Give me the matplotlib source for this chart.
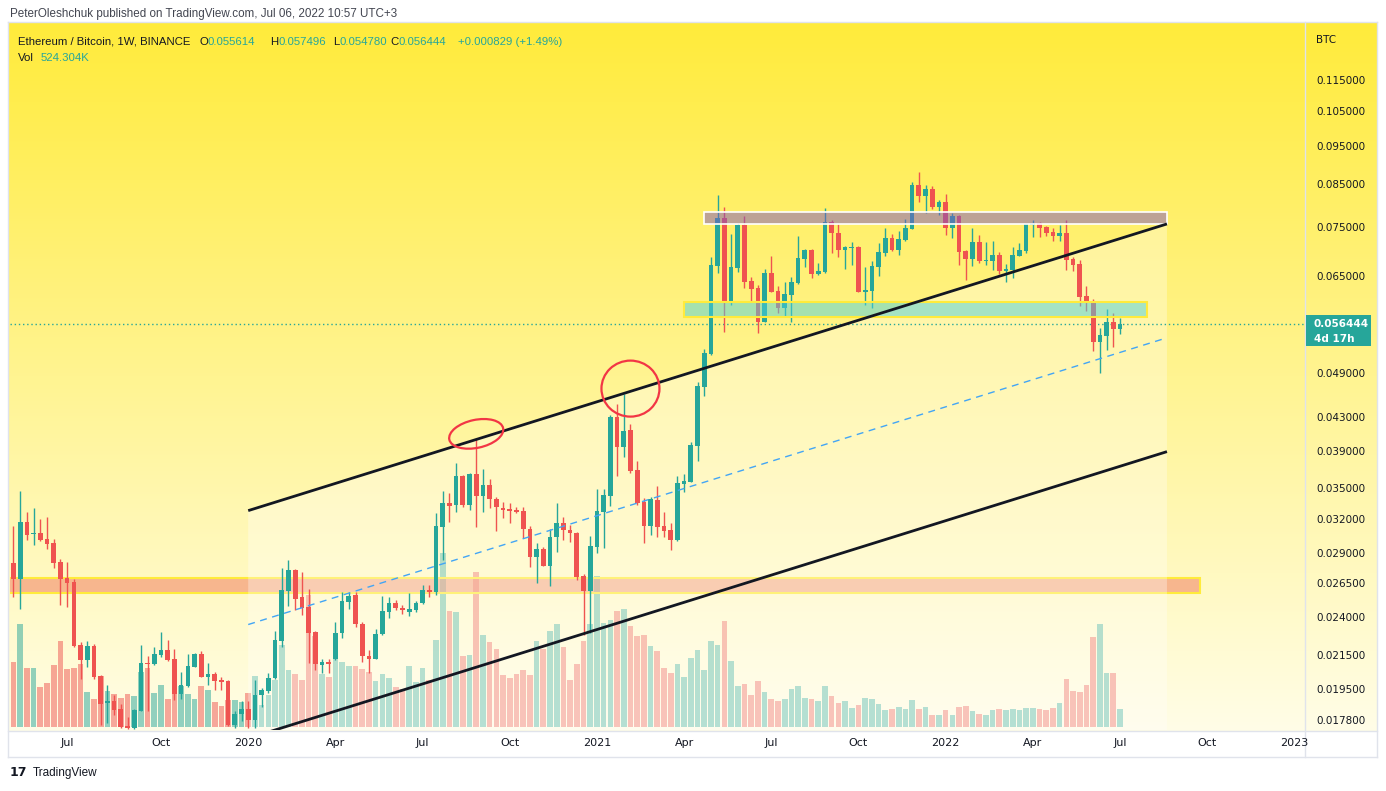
import numpy as np
import pandas as pd
import matplotlib
matplotlib.use('Agg')
import matplotlib.pyplot as plt
import matplotlib.dates as mdates
import matplotlib.transforms as mtransforms
from matplotlib.patches import Rectangle, Ellipse, Polygon
from matplotlib.ticker import NullLocator

W, H, DPI = 1386, 791, 100

# ETH/BTC weekly candles (Binance)
dates = pd.date_range('2019-05-06', periods=166, freq='7D')

opens = [
    0.02813, 0.02686, 0.0317, 0.0306, 0.03071, 0.03018, 0.02983, 0.02822, 0.02693, 0.02662,
    0.02216, 0.02121, 0.02209, 0.02024, 0.01871, 0.01882, 0.01838, 0.01749, 0.01741, 0.01828,
    0.0210, 0.02097, 0.02152, 0.02184, 0.02127, 0.0192, 0.01966, 0.0208, 0.02159, 0.0202,
    0.02034, 0.02001, 0.01995, 0.01754, 0.01812, 0.01838, 0.0178, 0.01912, 0.01939, 0.02009,
    0.02243, 0.02593, 0.02757, 0.02548, 0.02475, 0.02302, 0.02092, 0.02105, 0.02127, 0.02293,
    0.02513, 0.02563, 0.02355, 0.02146, 0.02129, 0.02286, 0.02441, 0.02506, 0.0247, 0.02441,
    0.02453, 0.02502, 0.02601, 0.02588, 0.03126, 0.03349, 0.03332, 0.03626, 0.03332, 0.03647,
    0.03424, 0.03532, 0.03388, 0.03303, 0.0329, 0.03284, 0.03277, 0.03107, 0.02866, 0.0293,
    0.02792, 0.03033, 0.03157, 0.03098, 0.03068, 0.02711, 0.02596, 0.0295, 0.03268, 0.03421,
    0.04307, 0.03949, 0.04146, 0.0369, 0.03361, 0.03131, 0.03381, 0.03131, 0.03098, 0.03009,
    0.03542, 0.03566, 0.03957, 0.04704, 0.05174, 0.06687, 0.077, 0.06022, 0.06648, 0.07537,
    0.06401, 0.06279, 0.05685, 0.06553, 0.06217, 0.05922, 0.06151, 0.0637, 0.06828, 0.07007,
    0.0654, 0.06577, 0.07596, 0.07369, 0.07013, 0.07047, 0.07068, 0.06199, 0.06217, 0.06668,
    0.06946, 0.07256, 0.07007, 0.07214, 0.07449, 0.08468, 0.08202, 0.08371, 0.07942, 0.08059,
    0.0747, 0.07737, 0.06986, 0.06822, 0.07172, 0.06785, 0.06791, 0.06906, 0.06597, 0.0661,
    0.06886, 0.06986, 0.07544, 0.07574, 0.07492, 0.07384, 0.07305, 0.07362, 0.06825, 0.06726,
    0.06128, 0.06004, 0.05359, 0.05453, 0.05681, 0.055614]
highs = [
    0.03136, 0.03471, 0.03265, 0.03303, 0.03199, 0.03218, 0.03018, 0.02846, 0.02822, 0.02686,
    0.02235, 0.02241, 0.02222, 0.0203, 0.01972, 0.01915, 0.01865, 0.01796, 0.01838, 0.02216,
    0.02142, 0.02201, 0.02302, 0.02248, 0.02188, 0.02048, 0.02159, 0.02165, 0.02178, 0.02101,
    0.02048, 0.02015, 0.02001, 0.01828, 0.01882, 0.01882, 0.02001, 0.01955, 0.0204, 0.0231,
    0.02773, 0.02838, 0.02765, 0.02741, 0.02608, 0.0231, 0.02127, 0.02129, 0.02371, 0.02588,
    0.02588, 0.02588, 0.02371, 0.0218, 0.0232, 0.02555, 0.02551, 0.02526, 0.02489, 0.02581,
    0.0252, 0.02639, 0.02639, 0.03253, 0.03474, 0.03447, 0.03766, 0.03637, 0.03654, 0.04035,
    0.03697, 0.03591, 0.03414, 0.03364, 0.03349, 0.03309, 0.03309, 0.03131, 0.02985, 0.0295,
    0.03107, 0.03355, 0.0322, 0.03138, 0.03082, 0.02725, 0.03045, 0.03488, 0.03488, 0.04329,
    0.04478, 0.04598, 0.04221, 0.03788, 0.03398, 0.03414, 0.03522, 0.03268, 0.03157, 0.0362,
    0.03647, 0.04007, 0.04773, 0.05245, 0.06856, 0.08218, 0.0795, 0.07341, 0.07574, 0.07737,
    0.06482, 0.06328, 0.06623, 0.06886, 0.0631, 0.06383, 0.0647, 0.07298, 0.07027, 0.07027,
    0.06746, 0.07919, 0.07647, 0.07552, 0.07095, 0.07172, 0.0709, 0.06661, 0.06791, 0.07157,
    0.0747, 0.07341, 0.07405, 0.07669, 0.0855, 0.088, 0.08468, 0.08443, 0.08106, 0.0825,
    0.07798, 0.07766, 0.07, 0.0747, 0.07319, 0.07172, 0.07193, 0.06966, 0.06726, 0.07075,
    0.07157, 0.07588, 0.07647, 0.07603, 0.07514, 0.0747, 0.07537, 0.07647, 0.06856, 0.06805,
    0.0631, 0.06075, 0.05581, 0.059, 0.05832, 0.057496]
lows = [
    0.02551, 0.02463, 0.03009, 0.02965, 0.0300, 0.02931, 0.02773, 0.02489, 0.02475, 0.02203,
    0.02007, 0.02078, 0.02007, 0.01754, 0.01765, 0.01807, 0.01739, 0.01733, 0.01733, 0.01825,
    0.01829, 0.02092, 0.02136, 0.02115, 0.01887, 0.01894, 0.01959, 0.02078, 0.02018, 0.01972,
    0.01943, 0.01943, 0.0175, 0.01739, 0.01775, 0.01739, 0.01739, 0.0185, 0.01926, 0.02005,
    0.02205, 0.02482, 0.02453, 0.02417, 0.02101, 0.0206, 0.0204, 0.02042, 0.02121, 0.0226,
    0.02458, 0.02337, 0.02105, 0.02044, 0.02125, 0.02282, 0.02395, 0.02453, 0.02423, 0.02411,
    0.0244, 0.02498, 0.02551, 0.02563, 0.02838, 0.03172, 0.03268, 0.03316, 0.03284, 0.03126,
    0.03268, 0.033, 0.03092, 0.0321, 0.03157, 0.03253, 0.03024, 0.02784, 0.02652, 0.02788,
    0.02627, 0.02908, 0.03009, 0.02994, 0.02678, 0.02281, 0.02293, 0.02894, 0.02939, 0.03323,
    0.0362, 0.03836, 0.03655, 0.03332, 0.02985, 0.03053, 0.03038, 0.03038, 0.02922, 0.030,
    0.03464, 0.0356, 0.03791, 0.04578, 0.0516, 0.06558, 0.05522, 0.0597, 0.06577, 0.06268,
    0.06027, 0.05505, 0.0568, 0.062, 0.05826, 0.05768, 0.05685, 0.0634, 0.06673, 0.06464,
    0.06509, 0.06558, 0.0694, 0.06856, 0.06635, 0.06707, 0.0619, 0.0597, 0.05922, 0.06495,
    0.06888, 0.06993, 0.06903, 0.07199, 0.0744, 0.08066, 0.07811, 0.07896, 0.07757, 0.07326,
    0.07256, 0.06707, 0.0642, 0.06687, 0.0674, 0.06707, 0.0661, 0.06528, 0.06388, 0.06464,
    0.0688, 0.06952, 0.07283, 0.07283, 0.07305, 0.07199, 0.07193, 0.0661, 0.06597, 0.05953,
    0.05866, 0.05224, 0.049, 0.05235, 0.05282, 0.05478]
closes = [
    0.02686, 0.0317, 0.03053, 0.03068, 0.03009, 0.02974, 0.02813, 0.02686, 0.02655, 0.02209,
    0.02121, 0.02209, 0.02018, 0.01865, 0.01882, 0.01833, 0.01744, 0.01741, 0.01833, 0.02103,
    0.02093, 0.02159, 0.02184, 0.02121, 0.0192, 0.01972, 0.02084, 0.02159, 0.0202, 0.02034,
    0.01997, 0.01989, 0.01754, 0.01812, 0.01838, 0.0178, 0.01915, 0.01943, 0.02013, 0.02248,
    0.02601, 0.02757, 0.02535, 0.0247, 0.02297, 0.02095, 0.02109, 0.02095, 0.02293, 0.02519,
    0.02555, 0.02355, 0.02142, 0.02129, 0.02288, 0.02446, 0.02506, 0.0247, 0.02453, 0.0246,
    0.02506, 0.02601, 0.02588, 0.03131, 0.03349, 0.03325, 0.03626, 0.03332, 0.03647, 0.03424,
    0.03532, 0.03388, 0.03309, 0.03284, 0.03277, 0.03268, 0.03104, 0.02866, 0.0293, 0.02792,
    0.03033, 0.03157, 0.03098, 0.03068, 0.02703, 0.02596, 0.02956, 0.03277, 0.03431, 0.04307,
    0.03949, 0.04134, 0.03683, 0.03355, 0.03131, 0.03388, 0.03122, 0.03092, 0.03009, 0.03549,
    0.03573, 0.03969, 0.04712, 0.05184, 0.06707, 0.077, 0.06022, 0.06661, 0.07537, 0.06388,
    0.06261, 0.05685, 0.06553, 0.06205, 0.05922, 0.06163, 0.06383, 0.06842, 0.07007, 0.0654,
    0.06591, 0.07596, 0.07356, 0.07007, 0.07068, 0.07068, 0.06199, 0.06236, 0.06687, 0.06966,
    0.07256, 0.07007, 0.07229, 0.0747, 0.08468, 0.08202, 0.08371, 0.07942, 0.08059, 0.0747,
    0.07737, 0.06966, 0.06828, 0.07172, 0.06785, 0.06805, 0.06906, 0.06597, 0.06629, 0.06906,
    0.07007, 0.07559, 0.07574, 0.0747, 0.07369, 0.07305, 0.07362, 0.06805, 0.06707, 0.06115,
    0.06022, 0.05359, 0.05469, 0.05681, 0.05561, 0.056444]
# weekly volume, thousands of ETH
volumes = [
    1871, 2960, 1699, 1699, 1155, 1269, 1785, 2472, 1670, 1699,
    1814, 1011, 811, 1470, 1040, 954, 839, 954, 897, 1584,
    1699, 983, 1212, 811, 1584, 1183, 954, 811, 1183, 1069,
    725, 610, 782, 782, 725, 983, 1470, 639, 925, 1355,
    2358, 1642, 1527, 1355, 3790, 2616, 1527, 1441, 2014, 1871,
    1756, 1756, 1679, 1584, 1335, 1527, 1421, 1163, 1089, 1756,
    1298, 1699, 1355, 2501, 4994, 3332, 3303, 2043, 2071, 4458,
    2644, 2444, 2235, 1498, 1421, 1527, 1642, 1498, 2472, 2235,
    2759, 2960, 2301, 1355, 1814, 2472, 2960, 4335, 2997, 3074,
    3332, 3389, 2902, 2616, 2644, 2329, 2195, 1708, 1564, 1822,
    1441, 1985, 2215, 1642, 2472, 2358, 3045, 1900, 1183, 1241,
    925, 1326, 1011, 811, 753, 811, 1097, 1183, 839, 811,
    753, 1183, 897, 696, 753, 553, 639, 839, 811, 668,
    496, 524, 582, 524, 782, 524, 582, 352, 352, 496,
    352, 582, 610, 467, 381, 352, 496, 524, 496, 524,
    496, 553, 553, 524, 496, 553, 696, 1384, 1040, 1011,
    1212, 2587, 2960, 1556, 1556, 524.304]

price_ticks = [0.115, 0.105, 0.095, 0.085, 0.075, 0.065, 0.049, 0.043, 0.039,
               0.035, 0.032, 0.029, 0.0265, 0.024, 0.0215, 0.0195, 0.0178]
time_ticks = ['2019-07-01', '2019-10-07', '2020-01-06', '2020-04-06', '2020-07-06',
              '2020-10-05', '2021-01-04', '2021-04-05', '2021-07-05', '2021-10-04',
              '2022-01-03', '2022-04-04', '2022-07-04', '2022-10-03', '2023-01-02']
time_labels = ['Jul', 'Oct', '2020', 'Apr', 'Jul', 'Oct', '2021', 'Apr', 'Jul', 'Oct',
               '2022', 'Apr', 'Jul', 'Oct', '2023']

# drawings
channel_dates = ['2020-01-06', '2022-08-22']
channel_upper = [0.03277, 0.07559]
channel_mid = [0.02351, 0.05424]
channel_lower = [0.01687, 0.03892]
zone_top = ['2021-04-26', '2022-08-22', 0.07566, 0.07834]
zone_mid = ['2021-04-05', '2022-08-01', 0.05759, 0.06017]
zone_low = ['2019-03-01', '2022-09-25', 0.02576, 0.02690]
circle_dates = ['2020-08-31', '2021-02-08']
circle_prices = [0.04099, 0.04677]
last_price = 0.056444

UP, DOWN = '#26A69A', '#EF5350'
TXT = '#131722'
UI_FONT = 'Liberation Sans'


def px_box(x0, y0, x1, y1):
    return [x0 / W, 1 - y1 / H, (x1 - x0) / W, (y1 - y0) / H]


def dnum(s):
    return mdates.date2num(pd.Timestamp(s))


fig = plt.figure(figsize=(W / DPI, H / DPI), dpi=DPI, facecolor='white')

# gradient background (chart + price scale)
bg = fig.add_axes(px_box(8, 22, 1377, 731), zorder=0)
g = np.linspace(0, 1, 256)[:, None, None]
c_top = np.array([255, 235, 59]) / 255
c_bot = np.array([255, 253, 231]) / 255
bg.imshow(c_top * (1 - g) + c_bot * g, aspect='auto', extent=[0, 1, 0, 1])
bg.axis('off')

x = mdates.date2num(dates)
o, hi, lo, c = map(np.array, (opens, highs, lows, closes))
up = c >= o
d0 = mdates.date2num(pd.Timestamp('2019-05-06'))
xlim = (d0 - 3.65, d0 + 1348.1)

# volume overlay
axv = fig.add_axes(px_box(10, 22, 1305, 730), zorder=1)
axv.patch.set_alpha(0)
vcol = [(38 / 255, 166 / 255, 154 / 255, 0.5) if u else (239 / 255, 83 / 255, 80 / 255, 0.5) for u in up]
axv.bar(x, volumes, width=5.9, color=vcol, linewidth=0)
axv.set_xlim(xlim)
axv.set_ylim(-77, 20207)
axv.axis('off')

# price pane
ax = fig.add_axes(px_box(10, 22, 1305, 730), zorder=2)
ax.patch.set_alpha(0)
ax.set_yscale('log')
ax.set_xlim(xlim)
ymin, ymax = 0.017287, 0.13619
ax.set_ylim(ymin, ymax)

# support zone (behind candles)
ax.add_patch(Rectangle((dnum(zone_low[0]), zone_low[2]), dnum(zone_low[1]) - dnum(zone_low[0]),
                       zone_low[3] - zone_low[2], facecolor=(0.95, 0.50, 0.39, 0.55),
                       edgecolor='#FFEB3B', lw=1.5, zorder=1))

# channel background
cd = [dnum(s) for s in channel_dates]
ax.add_patch(Polygon([(cd[0], channel_upper[0]), (cd[1], channel_upper[1]),
                      (cd[1], ymin), (cd[0], ymin)], closed=True,
                     facecolor=(1, 1, 1, 0.32), edgecolor='none', zorder=1.5))

# last price line
ax.axhline(last_price, color=UP, lw=1, ls=(0, (1, 2)), zorder=2)

# candles
col = np.where(up, UP, DOWN)
ax.vlines(x, lo, hi, colors=col, lw=1, zorder=3)
body_lo = np.minimum(o, c)
body_h = np.maximum(np.abs(c - o), body_lo * 0.004)
ax.bar(x, body_h, bottom=body_lo, width=4.9, color=col, linewidth=0, zorder=3)

# resistance / mid zones (over candles, translucent)
ax.add_patch(Rectangle((dnum(zone_top[0]), zone_top[2]), dnum(zone_top[1]) - dnum(zone_top[0]),
                       zone_top[3] - zone_top[2], facecolor=(0.49, 0.34, 0.76, 0.5),
                       edgecolor='white', lw=1.2, zorder=4))
ax.add_patch(Rectangle((dnum(zone_mid[0]), zone_mid[2]), dnum(zone_mid[1]) - dnum(zone_mid[0]),
                       zone_mid[3] - zone_mid[2], facecolor=(0.30, 0.82, 0.88, 0.5),
                       edgecolor='#FFEB3B', lw=1.5, zorder=4))

# channel lines
ax.plot(cd, channel_upper, color='#131722', lw=2, zorder=5, solid_capstyle='butt')
ax.plot(cd, channel_lower, color='#131722', lw=2, zorder=5, solid_capstyle='butt')
ax.plot(cd, channel_mid, color='#42A5F5', lw=1, ls=(0, (5, 4)), zorder=5)

# red circles (sizes in pixels)
for dstr, pr, w, h, ang in zip(circle_dates, circle_prices, [55, 58], [28, 56], [12, 0]):
    tr = fig.dpi_scale_trans + mtransforms.ScaledTranslation(dnum(dstr), pr, ax.transData)
    ax.add_patch(Ellipse((0, 0), w / DPI, h / DPI, angle=ang, transform=tr, fill=False,
                         edgecolor='#F23645', lw=1.6, zorder=6))

# axes ticks
for s in ax.spines.values():
    s.set_visible(False)
ax.yaxis.tick_right()
ax.set_yticks(price_ticks)
ax.set_yticklabels([f'{p:.6f}' for p in price_ticks])
ax.yaxis.set_minor_locator(NullLocator())
ax.tick_params(axis='y', length=0, pad=8, labelsize=7.5, colors=TXT)
ax.set_xticks([dnum(s) for s in time_ticks])
ax.set_xticklabels(time_labels)
ax.xaxis.set_minor_locator(NullLocator())
ax.tick_params(axis='x', length=0, pad=6, labelsize=8, colors=TXT)

# last price tag
blend = mtransforms.blended_transform_factory(ax.transAxes, ax.transData)
tag = fig.dpi_scale_trans + mtransforms.ScaledTranslation(1.0, last_price, blend)
ax.add_patch(Rectangle((0.01, -0.22), 0.65, 0.31, transform=tag, facecolor=UP,
                       edgecolor='none', clip_on=False, zorder=7))
ax.text(0.09, 0.0, f'{last_price:.6f}', transform=tag, color='white', fontsize=7.5,
        fontweight='bold', va='center', ha='left', zorder=8, clip_on=False)
ax.text(0.09, -0.145, '4d 17h', transform=tag, color='white', fontsize=7.5,
        fontweight='bold', va='center', ha='left', zorder=8, clip_on=False)

# frame
for (xa, ya, xb, yb) in [(8, 22, 1377, 22), (8, 757, 1377, 757), (8, 22, 8, 757),
                         (1377, 22, 1377, 757), (1305, 22, 1305, 757), (8, 731, 1377, 731)]:
    fig.add_artist(plt.Line2D([xa / W, xb / W], [1 - ya / H, 1 - yb / H],
                              transform=fig.transFigure, color='#E0E3EB', lw=1))

fig.text(1316 / W, 1 - 40 / H, 'BTC', fontsize=7.5, color=TXT, va='center')

# header + legend
fig.text(10 / W, 1 - 14 / H, 'PeterOleshchuk published on TradingView.com, Jul 06, 2022 10:57 UTC+3',
         fontsize=8.4, color='#434651', va='center', family=UI_FONT)

renderer = fig.canvas.get_renderer()


def rich(x0, y0, parts, size=8.2):
    xx = x0
    for s, colr in parts:
        t = fig.text(xx / W, 1 - y0 / H, s, fontsize=size, color=colr, va='center',
                     ha='left', family=UI_FONT)
        xx += t.get_window_extent(renderer).width
    return xx


rich(18, 42, [('Ethereum / Bitcoin, 1W, BINANCE', TXT)])
rich(199, 42, [('O', TXT), ('0.055614', UP)])
rich(270, 42, [('H', TXT), ('0.057496', UP)])
rich(333, 42, [('L', TXT), ('0.054780', UP)])
rich(390, 42, [('C', TXT), ('0.056444', UP)])
rich(458, 42, [('+0.000829 (+1.49%)', UP)])
rich(18, 58, [('Vol', TXT)])
rich(41, 58, [('524.304K', UP)])

# footer
fig.text(10 / W, 1 - 773 / H, '17', fontsize=9, fontweight='heavy', color=TXT, va='center')
fig.text(33 / W, 1 - 773 / H, 'TradingView', fontsize=8.5, color=TXT, va='center', family=UI_FONT)

fig.savefig('out.png', dpi=DPI, facecolor='white')
